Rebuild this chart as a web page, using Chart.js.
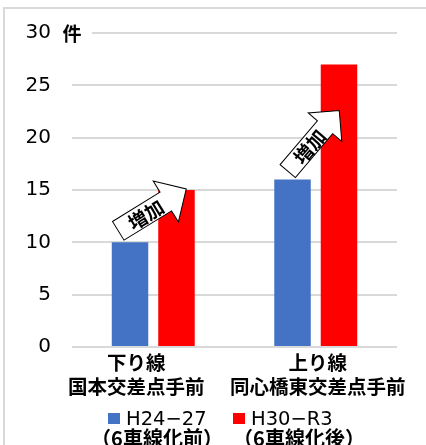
<!DOCTYPE html>
<html>
<head>
<meta charset="utf-8">
<script src="https://cdn.jsdelivr.net/npm/chart.js@4.4.1/dist/chart.umd.min.js"></script>
<style>
html, body { margin: 0; padding: 0; background: #fff; }
</style>
</head>
<body>
<canvas id="myChart" width="426" height="445"></canvas>
<script>
// data
const categories = [['下り線', '国本交差点手前'], ['上り線', '同心橋東交差点手前']]
const seriesNames = [['H24−27', '（6車線化前）'], ['H30−R3', '（6車線化後）']]
const before = [10, 16]
const after = [15, 27]
const yTicks = [0, 5, 10, 15, 20, 25, 30]
const unitLabel = '件'
const arrowText = '増加'

const colors = ['#4472C4', '#FF0000']
const jp = '"Noto Sans CJK JP", sans-serif'
const num = '"DejaVu Sans", "Noto Sans CJK JP", sans-serif'

// "増加" arrows: [category, pixel offset from category centre, value]
const arrows = [
    { cat: 0, from: [-35, 11.1], to: [33, 15.1], shaft: 22, head: 48, headLen: 24 },
    { cat: 1, from: [-28, 16.8], to: [23.5, 22.6], shaft: 20, head: 44, headLen: 22 }
]
// category labels sit a little off the group centre in the original
const labelShift = [-17, 2]

const frame = {
    id: 'frame',
    beforeDraw(chart) {
        const { ctx } = chart
        ctx.save()
        ctx.fillStyle = '#fff'
        ctx.fillRect(0, 0, chart.width, chart.height)
        ctx.strokeStyle = '#d9d9d9'
        ctx.lineWidth = 2
        ctx.beginPath()
        ctx.moveTo(4, 446)
        ctx.lineTo(4, 8)
        ctx.lineTo(426, 8)
        ctx.stroke()
        ctx.restore()
    }
}

const extras = {
    id: 'extras',
    afterDatasetsDraw(chart) {
        const { ctx, scales } = chart
        const x = scales.x, y = scales.y
        ctx.save()
        for (let a of arrows) {
            const cx = x.getPixelForValue(a.cat)
            const x0 = cx + a.from[0], y0 = y.getPixelForValue(a.from[1])
            const x1 = cx + a.to[0], y1 = y.getPixelForValue(a.to[1])
            const len = Math.hypot(x1 - x0, y1 - y0)
            const ang = Math.atan2(y1 - y0, x1 - x0)
            ctx.save()
            ctx.translate(x0, y0)
            ctx.rotate(ang)
            const s = a.shaft / 2, h = a.head / 2, b = len - a.headLen
            ctx.beginPath()
            ctx.moveTo(0, -s)
            ctx.lineTo(b, -s)
            ctx.lineTo(b, -h)
            ctx.lineTo(len, 0)
            ctx.lineTo(b, h)
            ctx.lineTo(b, s)
            ctx.lineTo(0, s)
            ctx.closePath()
            ctx.fillStyle = '#fff'
            ctx.fill()
            ctx.strokeStyle = '#000'
            ctx.lineWidth = 1
            ctx.stroke()
            ctx.fillStyle = '#000'
            ctx.font = 'bold 19px ' + jp
            ctx.textAlign = 'center'
            ctx.textBaseline = 'middle'
            ctx.fillText(arrowText, b / 2 + 4, 1)
            ctx.restore()
        }
        ctx.restore()
    },
    afterDraw(chart) {
        const { ctx, chartArea, scales } = chart
        const yTop = scales.y.getPixelForValue(30)
        ctx.save()
        // unit next to the top tick
        ctx.fillStyle = '#fff'
        ctx.fillRect(chartArea.left - 2, yTop - 3, 22, 6)
        ctx.fillStyle = '#000'
        ctx.font = 'bold 19px ' + jp
        ctx.textAlign = 'center'
        ctx.textBaseline = 'middle'
        ctx.fillText(unitLabel, 72, yTop + 1)

        // category labels, two lines each
        ctx.font = 'bold 19.5px ' + jp
        for (let i = 0; i < categories.length; i++) {
            const cx = scales.x.getPixelForValue(i) + labelShift[i]
            ctx.fillText(categories[i][0], cx, chartArea.bottom + 16)
            ctx.fillText(categories[i][1], cx, chartArea.bottom + 40)
        }

        // legend, two lines per entry
        const boxX = [108, 233]
        const line2X = [157, 299]
        const ly = 419
        for (let i = 0; i < seriesNames.length; i++) {
            ctx.fillStyle = colors[i]
            ctx.fillRect(boxX[i], ly - 6, 12, 11)
            ctx.fillStyle = '#000'
            ctx.font = '19.5px ' + num
            ctx.textAlign = 'left'
            ctx.fillText(seriesNames[i][0], boxX[i] + 18, ly + 1)
            ctx.font = 'bold 20px ' + jp
            ctx.textAlign = 'center'
            ctx.fillText(seriesNames[i][1], line2X[i], ly + 19)
        }
        ctx.restore()
    }
}

new Chart(document.getElementById('myChart'), {
    type: 'bar',
    data: {
        labels: categories,
        datasets: [
            { label: seriesNames[0].join(''), data: before, backgroundColor: colors[0] },
            { label: seriesNames[1].join(''), data: after, backgroundColor: colors[1] }
        ]
    },
    options: {
        responsive: false,
        animation: false,
        devicePixelRatio: 1,
        categoryPercentage: 0.572,
        barPercentage: 0.785,
        layout: { padding: { top: 33, right: 29, left: 0, bottom: 0 } },
        plugins: {
            legend: { display: false },
            tooltip: { enabled: false }
        },
        scales: {
            x: {
                grid: { display: false },
                border: { display: false },
                ticks: { display: false },
                afterFit: s => { s.height = 98 }
            },
            y: {
                min: 0,
                max: 30,
                afterBuildTicks: s => { s.ticks = yTicks.map(v => ({ value: v })) },
                grid: { color: '#d9d9d9', lineWidth: 2, drawTicks: false },
                border: { display: false },
                ticks: {
                    color: '#000',
                    padding: 21,
                    font: { family: num, size: 20 }
                },
                afterFit: s => { s.width = 72 }
            }
        }
    },
    plugins: [frame, extras]
})
</script>
</body>
</html>
